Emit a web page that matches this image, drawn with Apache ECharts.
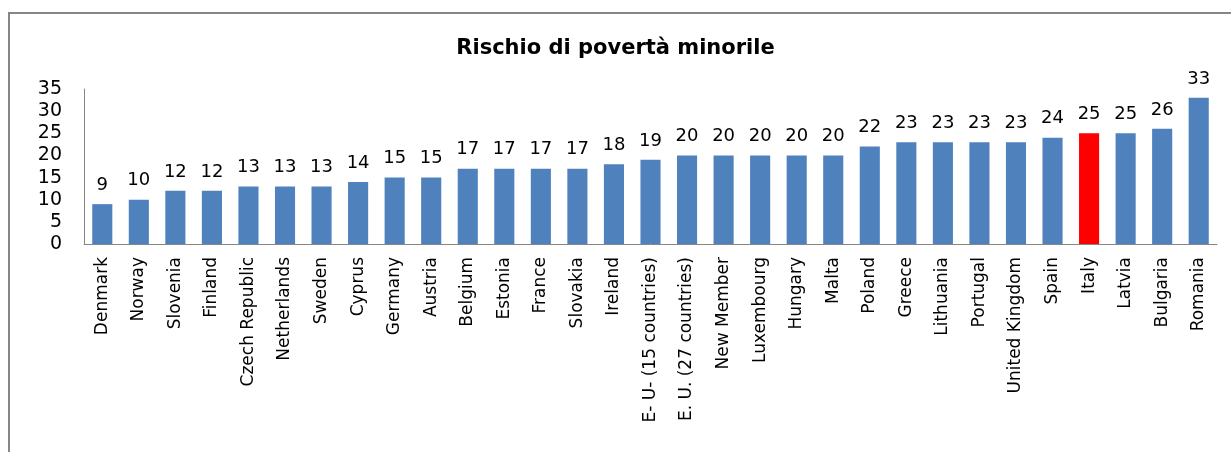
<!DOCTYPE html>
<html>
<head>
<meta charset="utf-8">
<script src="https://cdn.jsdelivr.net/npm/echarts@6/dist/echarts.min.js"></script>
<style>
html,body{margin:0;padding:0;background:#fff;}
#chart{width:1231px;height:452px;}
</style>
</head>
<body>
<div id="chart"></div>
<script>
const categories = ["Denmark","Norway","Slovenia","Finland","Czech Republic","Netherlands","Sweden","Cyprus","Germany","Austria","Belgium","Estonia","France","Slovakia","Ireland","E- U- (15 countries)","E. U. (27 countries)","New Member","Luxembourg","Hungary","Malta","Poland","Greece","Lithuania","Portugal","United Kingdom","Spain","Italy","Latvia","Bulgaria","Romania"];
const values = [9,10,12,12,13,13,13,14,15,15,17,17,17,17,18,19,20,20,20,20,20,22,23,23,23,23,24,25,25,26,33];
const highlight = "Italy";
const yTicks = [0,5,10,15,20,25,30,35];

const chart = echarts.init(document.getElementById('chart'), null, {renderer:'canvas'});
const font = 'DejaVu Sans';
chart.setOption({
  animation:false,
  backgroundColor:'#fff',
  title:{
    text:'Rischio di povertà minorile',
    left:'center', top:33,
    textStyle:{fontFamily:font, fontWeight:'bold', fontSize:21, color:'#000'}
  },
  graphic:[{
    type:'rect', silent:true, z:-1,
    shape:{x:9, y:13, width:1240, height:460},
    style:{fill:'none', stroke:'#868686', lineWidth:2}
  }],
  grid:{left:84, right:14, top:89, bottom:208, containLabel:false},
  xAxis:{
    type:'category', data:categories,
    axisLine:{lineStyle:{color:'#868686', width:1}},
    axisTick:{show:false},
    axisLabel:{rotate:90, interval:0, margin:13, fontFamily:font, fontSize:17, color:'#000'}
  },
  yAxis:{
    type:'value', min:yTicks[0], max:yTicks[yTicks.length-1], interval:5,
    axisLine:{show:true, lineStyle:{color:'#868686', width:1}},
    axisTick:{show:false},
    splitLine:{show:false},
    axisLabel:{margin:22, fontFamily:font, fontSize:19, color:'#000'}
  },
  series:[{
    type:'bar',
    barWidth:'55%',
    data:values.map((v,i)=>({value:v, itemStyle:{color: categories[i]===highlight ? '#FF0000' : '#4F81BD'}})),
    label:{show:true, position:'top', distance:10, fontFamily:font, fontSize:18, color:'#000'}
  }]
});
</script>
</body>
</html>
